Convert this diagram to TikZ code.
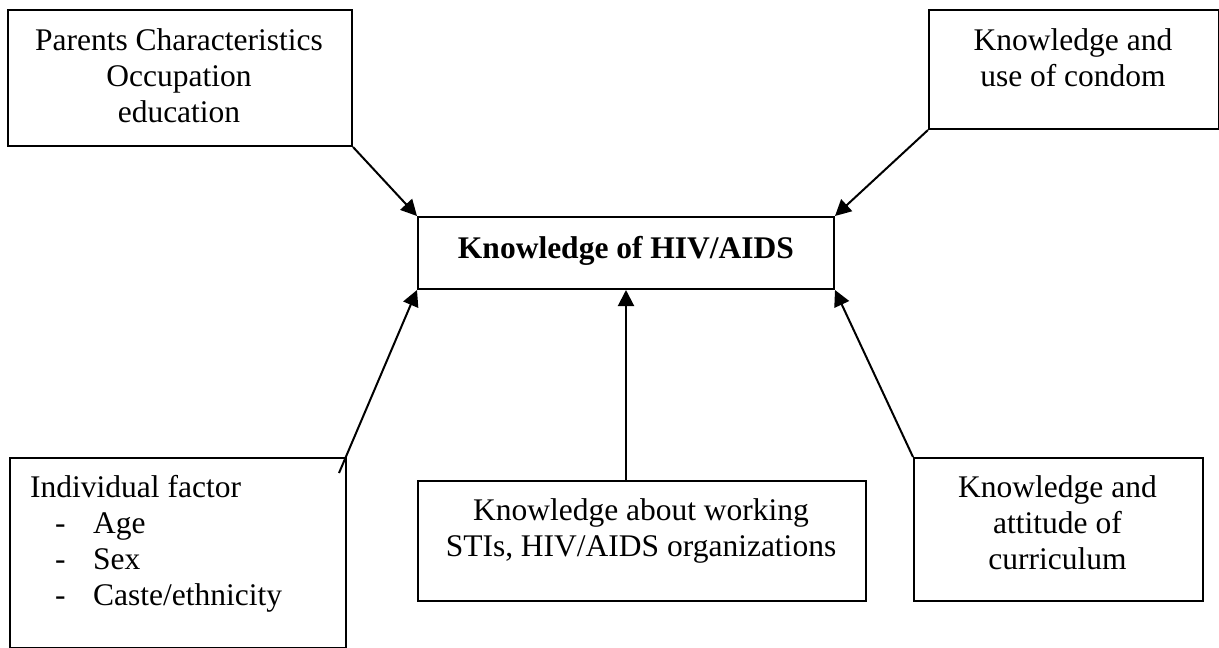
\documentclass[tikz,border=0pt]{standalone}
\usepackage{fontspec}
\setmainfont{Liberation Serif}
\usetikzlibrary{arrows.meta}
\begin{document}
\begin{tikzpicture}[x=1pt,y=-1pt,
  box/.style={draw, line width=2pt, inner sep=0pt, anchor=north west},
  txt/.style={inner sep=0pt, anchor=north, align=center, font=\fontsize{31.5}{36}\selectfont},
  arr/.style={line width=2pt, -{Triangle[length=16pt,width=16pt]}}]
\useasboundingbox (0,0) rectangle (1219,648);
% boxes
\node[box, minimum width=344pt, minimum height=136pt] (b1) at (7,9) {};
\node[box, minimum width=290pt, minimum height=119pt] (b2) at (928,9) {};
\node[box, minimum width=416pt, minimum height=72pt, text height=20pt, text depth=10pt,
      font=\fontsize{31.5}{36}\selectfont\bfseries] (c) at (417,216) {Knowledge of HIV/AIDS};
\node[box, minimum width=336pt, minimum height=190pt] (b4) at (9,457) {};
\node[box, minimum width=448pt, minimum height=120pt] (b5) at (417,480) {};
\node[box, minimum width=289pt, minimum height=143pt] (b6) at (913,457) {};
% texts
\node[txt] (t1) at (179,24.8) {\strut Parents Characteristics\\Occupation\\education};
\node[txt] (t2) at (1073,24.8) {\strut Knowledge and\\use of condom};
\node[txt, anchor=north west, align=left] (t4) at (30,471.8)
  {\strut Individual factor\\
   \hspace*{25pt}\makebox[38pt][l]{-}Age\\
   \hspace*{25pt}\makebox[38pt][l]{-}Sex\\
   \hspace*{25pt}\makebox[38pt][l]{-}Caste/ethnicity};
\node[txt] (t5) at (641,494.8) {\strut Knowledge about working\\STIs, HIV/AIDS organizations};
\node[txt] (t6) at (1057.5,471.8) {\strut Knowledge and\\attitude of\\curriculum};
% connectors
\draw[arr] (b1.south east) -- (c.north west);
\draw[arr] (b2.south west) -- (c.north east);
\coordinate (a3) at (339,473);
\draw[arr] (a3) -- (c.south west);
\draw[arr] (b5.north -| c.south) -- (c.south);
\draw[arr] (b6.north west) -- (c.south east);
\end{tikzpicture}
\end{document}
